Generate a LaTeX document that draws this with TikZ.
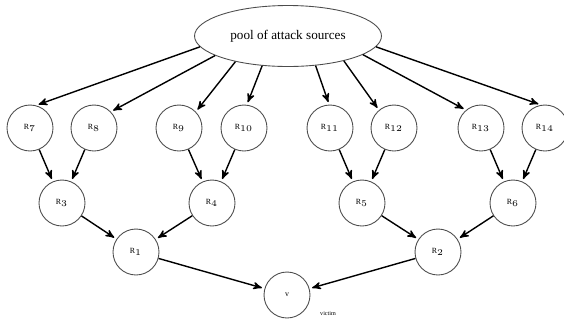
\documentclass[tikz,border=0pt]{standalone}
\usepackage{fontspec}
\setmainfont{Liberation Serif}
\usepackage{tikz}
\usetikzlibrary{arrows, shapes.geometric}

\begin{document}
\begin{tikzpicture}[x=0.02cm,y=-0.02cm,->,>=stealth',shorten >=1.5pt,
    router/.style={circle, draw=black!70, line width=0.5pt, minimum size=0.92cm,
      inner sep=0pt, font=\fontsize{4.5}{5}\selectfont},
    link/.style={line width=0.8pt}]
  \useasboundingbox (0,0) rectangle (564,322);
  \node[ellipse, draw=black!70, line width=0.5pt, minimum width=3.74cm, minimum height=1.22cm,
        font=\fontsize{7.5}{8}\selectfont] (pool) at (288,36) {pool of attack sources};

  \node[router] (r7)  at (30,128)  {R$_7$};
  \node[router] (r8)  at (94,128)  {R$_8$};
  \node[router] (r9)  at (179,128) {R$_9$};
  \node[router] (r10) at (244,128) {R$_{10}$};
  \node[router] (r11) at (330,128) {R$_{11}$};
  \node[router] (r12) at (394,128) {R$_{12}$};
  \node[router] (r13) at (481,128) {R$_{13}$};
  \node[router] (r14) at (545,128) {R$_{14}$};

  \node[router] (r3) at (62,203)  {R$_3$};
  \node[router] (r4) at (212,203) {R$_4$};
  \node[router] (r5) at (362,203) {R$_5$};
  \node[router] (r6) at (513,203) {R$_6$};

  \node[router] (r1) at (136,252) {R$_1$};
  \node[router] (r2) at (438,252) {R$_2$};

  \node[router] (v) at (287,295) {v};
  \node[font=\fontsize{3.5}{4}\selectfont, anchor=west] (victim) at (314,313) {victim};

  \path[link]
        (pool.187) edge (r7.75)
        (pool.195) edge (r8.44)
        (pool.206) edge (r9.44)
        (pool.229) edge (r10.83)
        (pool.313) edge (r11.92)
        (pool.336) edge (r12.130)
        (pool.346) edge (r13.130)
        (pool.353) edge (r14.100)
        (r7)  edge (r3)
        (r8)  edge (r3)
        (r9)  edge (r4)
        (r10) edge (r4)
        (r11) edge (r5)
        (r12) edge (r5)
        (r13) edge (r6)
        (r14) edge (r6)
        (r3)  edge (r1)
        (r4)  edge (r1)
        (r5)  edge (r2)
        (r6)  edge (r2)
        (r1)  edge (v)
        (r2)  edge (v);
\end{tikzpicture}
\end{document}
